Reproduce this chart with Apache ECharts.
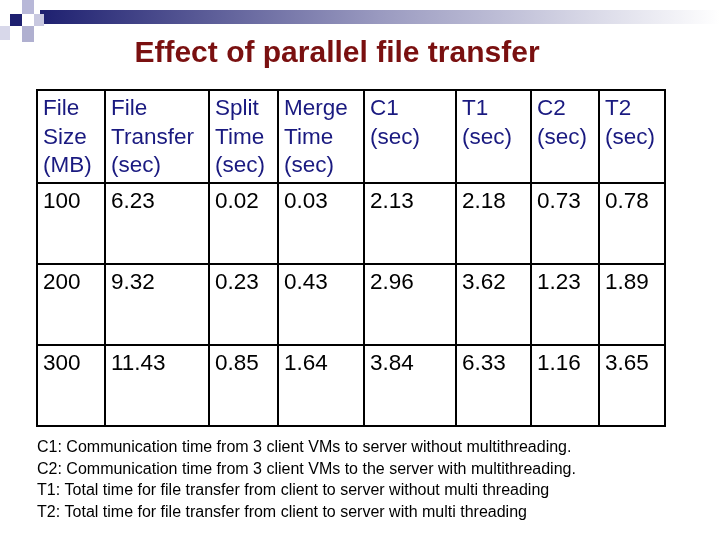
<!DOCTYPE html>
<html><head><meta charset="utf-8">
<script src="https://cdn.jsdelivr.net/npm/echarts@6/dist/echarts.min.js"></script>
<style>html,body{margin:0;padding:0;background:#fff}#c{width:720px;height:540px}</style>
</head><body><div id="c"></div>
<script>
const title = 'Effect of parallel file transfer';
const headers = [['File','Size','(MB)'],['File','Transfer','(sec)'],['Split','Time','(sec)'],['Merge','Time','(sec)'],['C1','(sec)'],['T1','(sec)'],['C2','(sec)'],['T2','(sec)']];
const fileSizes = ['100','200','300'];
const fileTransfer = ['6.23','9.32','11.43'];
const splitTime = ['0.02','0.23','0.85'];
const mergeTime = ['0.03','0.43','1.64'];
const c1 = ['2.13','2.96','3.84'];
const t1 = ['2.18','3.62','6.33'];
const c2 = ['0.73','1.23','1.16'];
const t2 = ['0.78','1.89','3.65'];
const notes = [
 'C1: Communication time from 3 client VMs to server without multithreading.',
 'C2: Communication time from 3 client VMs to the server with multithreading.',
 'T1: Total time for file transfer from client to server without multi threading',
 'T2: Total time for file transfer from client to server with multi threading'];

// layout
const colEdges = [37,105,209,278,364,456,531,599,665];
const rowEdges = [90,183,264,345,426];
const cols = [fileSizes,fileTransfer,splitTime,mergeTime,c1,t1,c2,t2];
const data = [];
headers.forEach((h,ci)=>data.push([ci,0,h.join('\n')]));
cols.forEach((arr,ci)=>arr.forEach((v,ri)=>data.push([ci,ri+1,v])));
const FF = 'Liberation Sans';

const chart = echarts.init(document.getElementById('c'));
chart.setOption({
  animation:false,
  grid:{left:0,right:0,top:0,bottom:0},
  xAxis:{type:'value',min:0,max:720,show:false},
  yAxis:{type:'value',min:0,max:540,inverse:true,show:false},
  series:[{
    type:'custom',
    data:data,
    renderItem:function(params,api){
      const ci=api.value(0), ri=api.value(1);
      const p0=api.coord([colEdges[ci],rowEdges[ri]]);
      const p1=api.coord([colEdges[ci+1],rowEdges[ri+1]]);
      const txt=data[params.dataIndex][2];
      return {type:'group',children:[
        {type:'rect',shape:{x:p0[0],y:p0[1],width:p1[0]-p0[0],height:p1[1]-p0[1]},
         style:{fill:'none',stroke:'#000',lineWidth:2}},
        {type:'text',x:p0[0]+6,y:p0[1]+5,style:{text:txt,fill:ri===0?'#1a1a80':'#000',
          fontFamily:FF,fontSize:22.5,lineHeight:28.5,verticalAlign:'top'}}
      ]};
    }
  }],
  graphic:[
    {type:'rect',shape:{x:40,y:10,width:680,height:14},style:{fill:new echarts.graphic.LinearGradient(0,0,1,0,[{offset:0,color:'#1e2070'},{offset:0.5,color:'#9a9ac0'},{offset:1,color:'#ffffff'}])}},
    {type:'rect',shape:{x:10,y:14,width:12,height:12},style:{fill:'#1e2070'}},
    {type:'rect',shape:{x:22,y:0,width:12,height:14},style:{fill:'#b8b8d8'}},
    {type:'rect',shape:{x:0,y:26,width:10,height:14},style:{fill:'#d8d8ea'}},
    {type:'rect',shape:{x:22,y:26,width:12,height:16},style:{fill:'#b0b0d0'}},
    {type:'rect',shape:{x:34,y:14,width:10,height:12},style:{fill:'#c8c8e0'}},
    {type:'text',x:337,y:54,style:{text:title,fill:'#7a1010',fontFamily:FF,fontWeight:'bold',fontSize:30,textAlign:'center',verticalAlign:'middle'}},
    {type:'text',x:37,y:437,style:{text:notes.join('\n'),fill:'#000',fontFamily:FF,fontSize:16,lineHeight:21.5,verticalAlign:'top'}}
  ]
});
</script></body></html>
